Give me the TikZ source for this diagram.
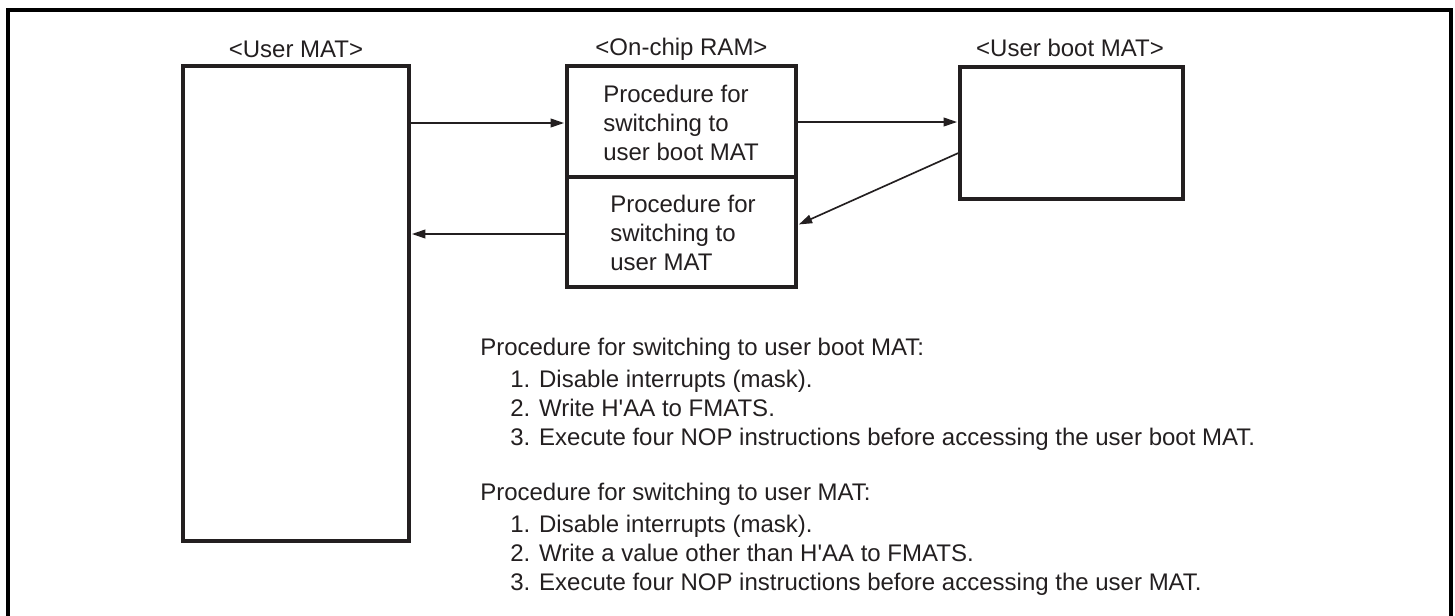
\documentclass[tikz,border=0pt]{standalone}
\usepackage{fontspec}
\setmainfont{Liberation Sans}
\usetikzlibrary{arrows.meta}
\definecolor{ink}{RGB}{35,31,32}
\newcommand{\sq}{\textquotesingle}
\begin{document}
\begin{tikzpicture}[x=0.75pt,y=-0.75pt,
  box/.style={draw=ink, line width=2.4pt, inner sep=0pt, fill=white},
  arr/.style={draw=ink, line width=1.25pt, -{Triangle[length=10pt,width=6.5pt]}, shorten >=1pt},
  lbl/.style={font=\fontsize{18}{22}\selectfont, text=ink, inner sep=0pt},
  frame/.style={draw=black, line width=2.5pt}]
\useasboundingbox (0,0) rectangle (1455,615);
% outer frame
\draw[frame] (8,640) -- (8,10) -- (1451,10) -- (1451,640);
% boxes
\node[box, minimum width=226*0.75pt, minimum height=475*0.75pt] (um) at (296,303.5) {};
\node[box, minimum width=229*0.75pt, minimum height=111*0.75pt] (ramU) at (681.5,121.5) {};
\node[box, minimum width=229*0.75pt, minimum height=110*0.75pt] (ramL) at (681.5,232) {};
\node[box, minimum width=223*0.75pt, minimum height=132*0.75pt] (boot) at (1071.5,133) {};
% titles
\node[lbl] (tum) at (296,49) {<User MAT>};
\node[lbl] (tram) at (681.5,49) {<On-chip RAM>};
\node[lbl] (tboot) at (1070,48) {<User boot MAT>};
% box texts
\node[lbl, align=left, anchor=west] (pu) at (603,123) {Procedure for\\switching to\\user boot MAT};
\node[lbl, align=left, anchor=west] (pl) at (610,233) {Procedure for\\switching to\\user MAT};
% connectors
\coordinate (y1) at (0,123);
\coordinate (y2) at (0,122);
\coordinate (y3) at (0,153);
\coordinate (y4) at (0,225);
\coordinate (y5) at (0,234);
\draw[arr] (um.east |- y1) -- (ramU.west |- y1);
\draw[arr] (ramU.east |- y2) -- (boot.west |- y2);
\draw[arr] (boot.west |- y3) -- (ramL.east |- y4);
\draw[arr] (ramL.west |- y5) -- (um.east |- y5);
% procedure text
\node[lbl, anchor=base west] (h1) at (480,355) {Procedure for switching to user boot MAT:};
\node[lbl, anchor=base west] (a1) at (510,387) {1. Disable interrupts (mask).};
\node[lbl, anchor=base west] (a2) at (510,416) {2. Write H\sq AA to FMATS.};
\node[lbl, anchor=base west] (a3) at (510,445) {3. Execute four NOP instructions before accessing the user boot MAT.};
\node[lbl, anchor=base west] (h2) at (480,500) {Procedure for switching to user MAT:};
\node[lbl, anchor=base west] (b1) at (510,532) {1. Disable interrupts (mask).};
\node[lbl, anchor=base west] (b2) at (510,561) {2. Write a value other than H\sq AA to FMATS.};
\node[lbl, anchor=base west] (b3) at (510,590) {3. Execute four NOP instructions before accessing the user MAT.};
\end{tikzpicture}
\end{document}
